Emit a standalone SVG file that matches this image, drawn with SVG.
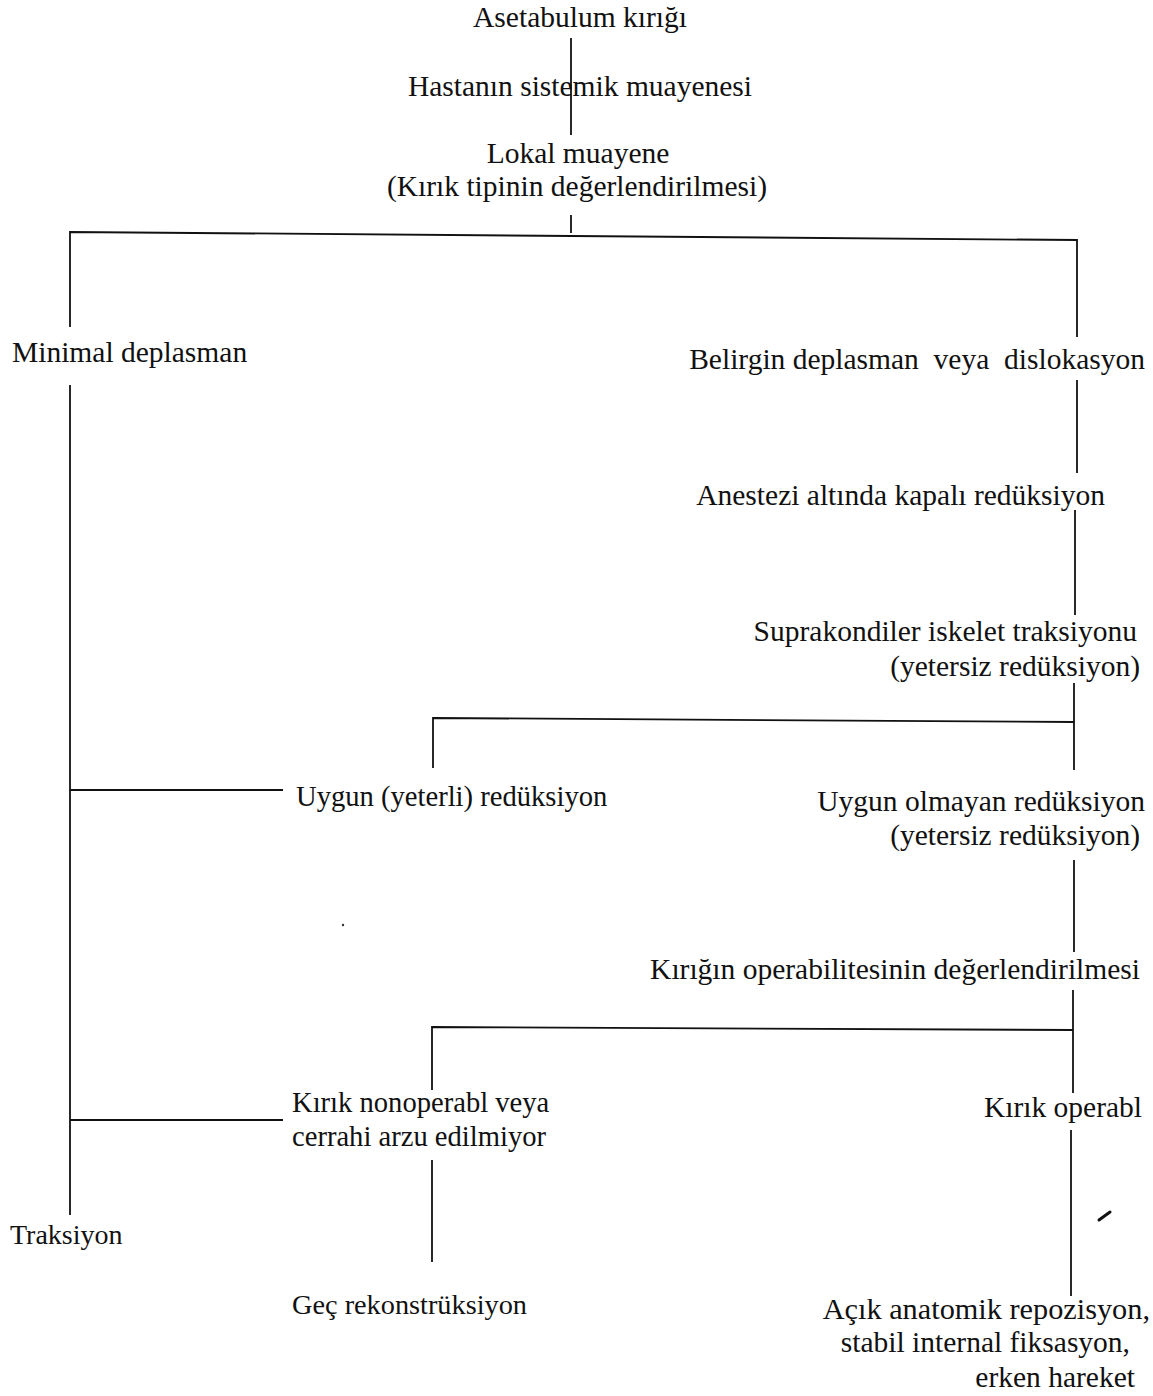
<svg xmlns="http://www.w3.org/2000/svg" width="1153" height="1396" viewBox="0 0 1153 1396">
<style>
  text { font-family: "Liberation Serif", "Times New Roman", serif; font-size: 29.5px; fill: #111; white-space: pre; }
  .c { text-anchor: middle; }
  .e { text-anchor: end; }
  .s { text-anchor: start; }
  .sm { font-size: 28.6px; }
  .ln { stroke: #111; stroke-width: 1.8; fill: none; }
</style>
<rect width="1153" height="1396" fill="#ffffff"/>
<g id="connectors" class="ln">
  <path d="M571,38 V135"/>
  <path d="M571,215 V233"/>
  <path d="M70,327 V232 L1077,240 V337"/>
  <path d="M70,385 V1215"/>
  <path d="M1077,380 V473"/>
  <path d="M1075,510 V615"/>
  <path d="M1074,683 V770"/>
  <path d="M433,768 V718 L1074,722"/>
  <path d="M70,790 H283"/>
  <path d="M1074,860 V952"/>
  <path d="M1073,990 V1093"/>
  <path d="M432,1090 V1027 L1073,1030"/>
  <path d="M70,1120 H283"/>
  <path d="M432,1160 V1262"/>
  <path d="M1071,1130 V1296"/>
</g>
<g id="n1"><text class="c" x="580" y="27">Asetabulum kırığı</text></g>
<g id="n2"><text class="c" x="580" y="96">Hastanın sistemik muayenesi</text></g>
<g id="n3"><text class="c" x="578" y="163">Lokal muayene</text><text class="c" x="577" y="196">(Kırık tipinin değerlendirilmesi)</text></g>
<g id="n4"><text class="s" x="12" y="362">Minimal deplasman</text></g>
<g id="n5"><text class="e" x="1145" y="369">Belirgin deplasman  veya  dislokasyon</text></g>
<g id="n6"><text class="e" x="1105" y="505">Anestezi altında kapalı redüksiyon</text></g>
<g id="n7"><text class="e" x="1137" y="641">Suprakondiler iskelet traksiyonu</text><text class="e" x="1140" y="676">(yetersiz redüksiyon)</text></g>
<g id="n8"><text class="s sm" x="296" y="806">Uygun (yeterli) redüksiyon</text></g>
<g id="n9"><text class="e" x="1145" y="811">Uygun olmayan redüksiyon</text><text class="e" x="1140" y="845">(yetersiz redüksiyon)</text></g>
<g id="n10"><text class="e" x="1140" y="979">Kırığın operabilitesinin değerlendirilmesi</text></g>
<g id="n11"><text class="s sm" x="292" y="1112">Kırık nonoperabl veya</text><text class="s sm" x="292" y="1146">cerrahi arzu edilmiyor</text></g>
<g id="n12"><text class="e" x="1142" y="1117">Kırık operabl</text></g>
<g id="n13"><text class="s" x="10" y="1244" style="font-size:28px">Traksiyon</text></g>
<g id="n14"><text class="s" x="292" y="1314" style="font-size:28.3px">Geç rekonstrüksiyon</text></g>
<g id="n15"><text class="e" x="1150" y="1319" style="font-size:30.3px">Açık anatomik repozisyon,</text><text class="e" x="1130" y="1352">stabil internal fiksasyon,</text><text class="e" x="1135" y="1387">erken hareket</text></g>
<g id="marks">
  <path d="M1099,1220 L1110,1212" stroke="#111" stroke-width="3" stroke-linecap="round"/>
  <circle cx="343" cy="925" r="1.2" fill="#333"/>
</g>
</svg>
